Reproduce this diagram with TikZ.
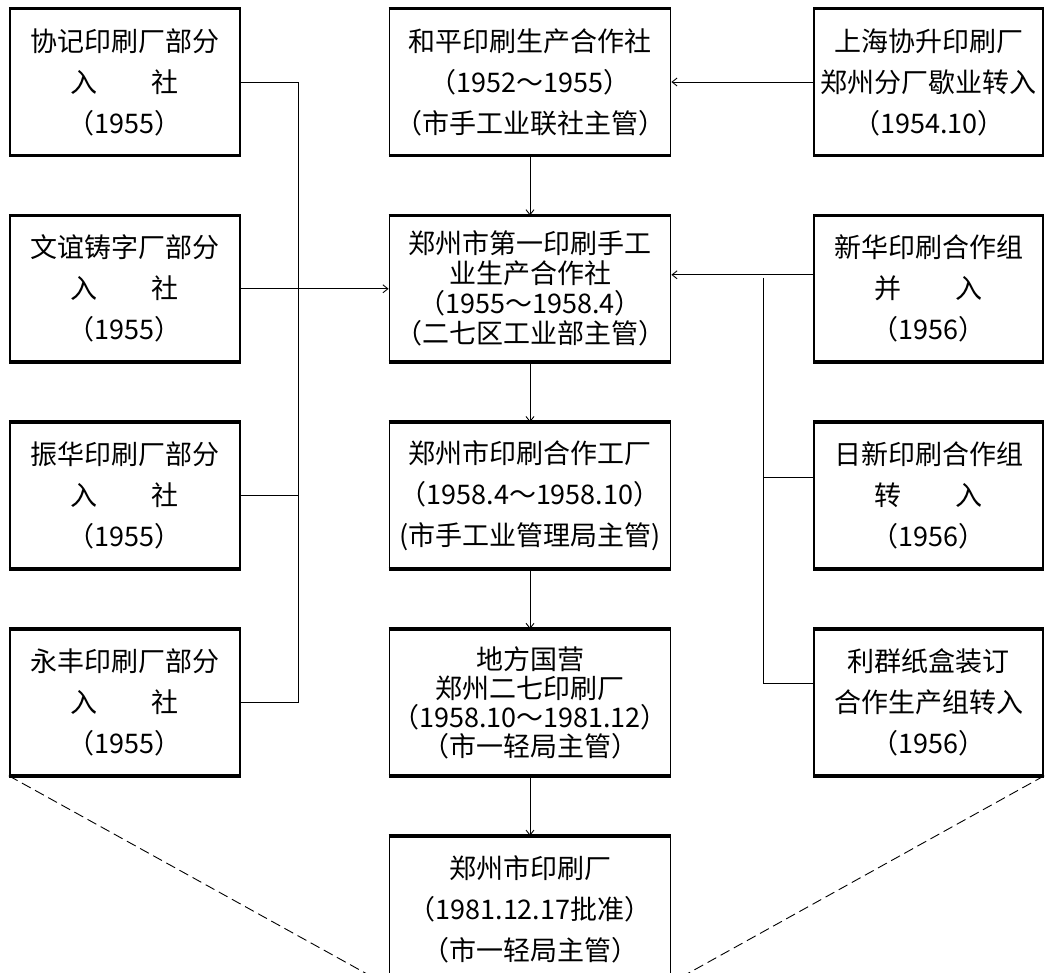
\documentclass[tikz,border=0pt]{standalone}
\usepackage{fontspec}
\setmainfont{Noto Sans CJK SC}
\usepackage{tikz}
\usetikzlibrary{positioning}
\usetikzlibrary{arrows.meta}

\begin{document}
\begin{tikzpicture}[x=1pt,y=-1pt,>={Straight Barb[length=5pt,width=8pt]},node distance=60pt and 148pt,
                    unit/.style={draw,line width=1.8pt,inner sep=0pt,align=center,
                      minimum height=145pt,font=\fontsize{27}{41}\selectfont},
                    side/.style={unit,minimum width=230pt},
                    main/.style={unit,minimum width=281pt},
                    link/.style={line width=0.9pt}]
  \useasboundingbox (0,0) rectangle (1045,973);

  \node[main] (heping) at (530,82) {和平印刷生产合作社\\（1952～1955）\\（市手工业联社主管）};
  \node[main] (yiyin) [below=of heping,font=\fontsize{27}{30}\selectfont]
       {郑州市第一印刷手工\\业生产合作社\\（1955～1958.4）\\（二七区工业部主管）};
  \node[main] (hezuo) [below=of yiyin] {郑州市印刷合作工厂\\（1958.4～1958.10）\\(市手工业管理局主管)};
  \node[main] (erqi) [below=of hezuo,font=\fontsize{27}{29}\selectfont]
       {地方国营\\郑州二七印刷厂\\（1958.10～1981.12）\\（市一轻局主管）};
  \node[main] (zzyin) [below=of erqi] {郑州市印刷厂\\（1981.12.17批准）\\（市一轻局主管）};

  \node[side] (xieji) [left=of heping] {协记印刷厂部分\\入　　社\\（1955）};
  \node[side] (wenyi) [left=of yiyin] {文谊铸字厂部分\\入　　社\\（1955）};
  \node[side] (zhenhua) [left=of hezuo] {振华印刷厂部分\\入　　社\\（1955）};
  \node[side] (yongfeng) [left=of erqi] {永丰印刷厂部分\\入　　社\\（1955）};

  \node[side,minimum width=229pt] (shanghai) [right=142pt of heping] {上海协升印刷厂\\郑州分厂歇业转入\\（1954.10）};
  \node[side,minimum width=229pt] (xinhua) [right=142pt of yiyin] {新华印刷合作组\\并　　入\\（1956）};
  \node[side,minimum width=229pt] (rixin) [right=142pt of hezuo] {日新印刷合作组\\转　　入\\（1956）};
  \node[side,minimum width=229pt] (liqun) [right=142pt of erqi] {利群纸盒装订\\合作生产组转入\\（1956）};

  % heavy top and bottom rules
  \foreach \n in {heping,yiyin,hezuo,erqi,zzyin,xieji,wenyi,zhenhua,yongfeng,shanghai,xinhua,rixin,liqun}
    \draw[line width=3.4pt] (\n.north west) -- (\n.north east) (\n.south west) -- (\n.south east);

  % left side joins
  \coordinate (ltop) at (298,82);
  \draw[link] (xieji.east) -- (ltop) |- (yongfeng.east);
  \draw[link] (zhenhua.east) -- (zhenhua.east -| ltop);
  \draw[link] (wenyi.east) -- (wenyi.east -| ltop);
  \draw[link,->] (wenyi.east -| ltop) -- (yiyin.west);

  % right side joins
  \coordinate (rtop) at (763,278);
  \coordinate (rmid) at (763,477);
  \coordinate (rbot) at (763,683);
  \draw[link,->] (shanghai.west) -- (heping.east);
  \draw[link,->] ([yshift=14pt]xinhua.west) -- ([yshift=14pt]xinhua.west -| yiyin.east);
  \draw[link] (rtop) -- (rbot) -- (rbot -| liqun.west);
  \draw[link] (rmid) -- (rmid -| rixin.west);

  \path[link,->]
    (heping) edge (yiyin)
    (yiyin) edge (hezuo)
    (hezuo) edge (erqi)
    (erqi) edge (zzyin);

  \draw[link,dash pattern=on 10pt off 5pt] (yongfeng.south west) -- ([xshift=-6pt]zzyin.south west);
  \draw[link,dash pattern=on 10pt off 5pt] (liqun.south east) -- (zzyin.south east);
\end{tikzpicture}
\end{document}
